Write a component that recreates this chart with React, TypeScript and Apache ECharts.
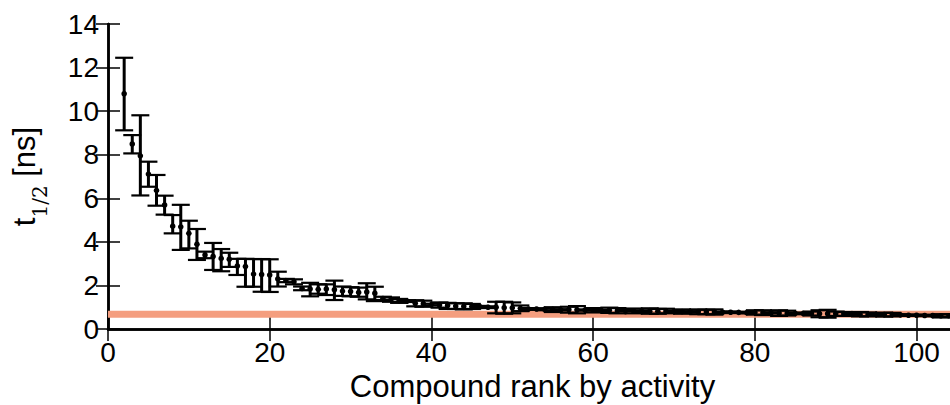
import React, { useEffect, useRef } from "react";
import * as echarts from "echarts";

const ranks: number[] = [];
for (let r = 2; r <= 104; r++) ranks.push(r);

const tHalf = [
  10.8, 8.49, 7.95, 7.11, 6.36, 5.69, 4.72, 4.69, 4.39, 3.89,
  3.4, 3.33, 3.24, 3.2, 2.89, 2.87, 2.52, 2.5, 2.48, 2.3,
  2.22, 2.17, 1.86, 1.84, 1.82, 1.84, 1.8, 1.74, 1.72, 1.68,
  1.7, 1.64, 1.4, 1.35, 1.3, 1.28, 1.18, 1.16, 1.12, 1.1,
  1.08, 1.05, 1.04, 1.03, 1.02, 1.0, 1.0, 0.98, 0.97, 0.95,
  0.92, 0.92, 0.9, 0.9, 0.88, 0.89, 0.88, 0.87, 0.86, 0.85,
  0.86, 0.84, 0.84, 0.83, 0.82, 0.82, 0.81, 0.82, 0.81, 0.8,
  0.79, 0.79, 0.78, 0.78, 0.77, 0.77, 0.76, 0.75, 0.76, 0.75,
  0.74, 0.73, 0.72, 0.72, 0.71, 0.71, 0.7, 0.7, 0.7, 0.69,
  0.68, 0.68, 0.67, 0.67, 0.66, 0.66, 0.65, 0.63, 0.63, 0.62,
  0.62, 0.61, 0.61,
];

const tLow = [
  9.12, 8.06, 6.13, 6.53, 5.66, 5.25, 4.39, 3.63, 3.7, 3.17,
  3.25, 2.71, 2.65, 2.85, 2.48, 1.94, 1.94, 1.71, 1.7, 1.95,
  2.15, 2.05, 1.78, 1.5, 1.62, 1.56, 1.33, 1.52, 1.5, 1.48,
  1.36, 1.28, 1.33, 1.25, 1.2, 1.24, 1.04, 1.02, 1.08, 0.98,
  0.92, 0.92, 0.9, 0.92, 0.98, 0.96, 0.72, 0.7, 0.72, 0.82,
  0.88, 0.89, 0.86, 0.78, 0.85, 0.75, 0.72, 0.84, 0.76, 0.82,
  0.74, 0.72, 0.81, 0.72, 0.78, 0.7, 0.7, 0.72, 0.78, 0.7,
  0.76, 0.68, 0.68, 0.66, 0.73, 0.74, 0.73, 0.72, 0.66, 0.64,
  0.71, 0.6, 0.62, 0.69, 0.68, 0.62, 0.54, 0.52, 0.6, 0.6,
  0.65, 0.58, 0.58, 0.64, 0.57, 0.58, 0.62, 0.6, 0.6, 0.59,
  0.59, 0.53, 0.55,
];

const tHigh = [
  12.45, 8.9, 9.81, 7.68, 7.07, 6.12, 5.23, 5.7, 4.97, 4.59,
  3.55, 3.95, 3.67, 3.5, 3.22, 3.22, 3.21, 3.21, 3.2, 2.63,
  2.3, 2.28, 1.95, 2.12, 2.05, 2.05, 2.22, 1.95, 1.92, 1.9,
  2.1, 1.94, 1.48, 1.45, 1.38, 1.32, 1.32, 1.3, 1.16, 1.22,
  1.2, 1.18, 1.18, 1.15, 1.06, 1.04, 1.25, 1.25, 1.22, 1.08,
  0.96, 0.95, 0.94, 1.0, 0.91, 1.02, 1.05, 0.9, 0.96, 0.88,
  0.98, 0.96, 0.87, 0.94, 0.86, 0.95, 0.92, 0.93, 0.84, 0.9,
  0.82, 0.9, 0.88, 0.9, 0.8, 0.8, 0.79, 0.78, 0.86, 0.86,
  0.77, 0.86, 0.84, 0.75, 0.74, 0.8, 0.86, 0.88, 0.8, 0.78,
  0.71, 0.78, 0.76, 0.7, 0.75, 0.74, 0.68, 0.66, 0.66, 0.65,
  0.65, 0.68, 0.67,
];

const threshold = 0.68;
const xTicks = { min: 0, max: 105, interval: 20 };
const yTicks = { min: 0, max: 14, interval: 2 };

const FONT = "Liberation Sans, Arial, sans-serif";

export default function App() {
  const ref = useRef<HTMLDivElement>(null);

  useEffect(() => {
    if (!ref.current) return;
    const chart = echarts.init(ref.current, null, { renderer: "svg" });
    const axisLine = { show: true, lineStyle: { color: "#000", width: 2.5 } };
    const axisTick = { show: true, inside: true, length: 12, lineStyle: { color: "#000", width: 1.5 } };
    const data = ranks.map((r, i) => [r, tHalf[i], tLow[i], tHigh[i]]);

    chart.setOption({
      animation: false,
      backgroundColor: "#fff",
      grid: { left: 108, right: 3, top: 24, bottom: 76, containLabel: false, outerBoundsMode: "none" },
      xAxis: [
        {
          type: "value",
          ...xTicks,
          position: "bottom",
          axisLine,
          axisTick,
          splitLine: { show: false },
          axisLabel: { show: true, color: "#000", fontSize: 28, fontFamily: FONT, margin: 9, showMaxLabel: false },
          name: "Compound rank by activity",
          nameLocation: "middle",
          nameGap: 41,
          nameTextStyle: { color: "#000", fontSize: 31, fontFamily: FONT },
        },
        {
          type: "value",
          ...xTicks,
          position: "top",
          axisLine,
          axisTick,
          splitLine: { show: false },
          axisLabel: { show: false },
        },
      ],
      yAxis: [
        {
          type: "value",
          ...yTicks,
          position: "left",
          axisLine,
          axisTick,
          splitLine: { show: false },
          axisLabel: { show: true, color: "#000", fontSize: 28, fontFamily: FONT, margin: 9 },
          name: "{t|t}{s|1/2}{t| [ns]}",
          nameLocation: "middle",
          nameRotate: 90,
          nameGap: 66,
          nameTextStyle: {
            color: "#000",
            rich: {
              t: { fontSize: 31, fontFamily: FONT, color: "#000", lineHeight: 36, verticalAlign: "middle" },
              s: { fontSize: 20, fontFamily: "DejaVu Serif, serif", color: "#000", lineHeight: 36, verticalAlign: "bottom", padding: [0, 0, -8, 0] },
            },
          },
        },
        {
          type: "value",
          ...yTicks,
          position: "right",
          axisLine,
          axisTick,
          splitLine: { show: false },
          axisLabel: { show: false },
        },
      ],
      series: [
        {
          type: "line",
          data: [[xTicks.min, threshold], [xTicks.max, threshold]],
          showSymbol: false,
          lineStyle: { color: "#F49E7F", width: 7 },
          z: 1,
          silent: true,
        },
        {
          type: "custom",
          data,
          encode: { x: 0, y: 1 },
          z: 2,
          clip: true,
          renderItem: (_params: any, api: any) => {
            const x = api.value(0);
            const pM = api.coord([x, api.value(1)]);
            const pL = api.coord([x, api.value(2)]);
            const pH = api.coord([x, api.value(3)]);
            const cap = 9;
            const stroke = "#000";
            return {
              type: "group",
              children: [
                { type: "line", shape: { x1: pL[0], y1: pL[1], x2: pH[0], y2: pH[1] }, style: { stroke, lineWidth: 3 } },
                { type: "line", shape: { x1: pH[0] - cap, y1: pH[1], x2: pH[0] + cap, y2: pH[1] }, style: { stroke, lineWidth: 2.2 } },
                { type: "line", shape: { x1: pL[0] - cap, y1: pL[1], x2: pL[0] + cap, y2: pL[1] }, style: { stroke, lineWidth: 2.2 } },
                { type: "circle", shape: { cx: pM[0], cy: pM[1], r: 2.8 }, style: { fill: stroke } },
              ],
            };
          },
        },
      ],
    });
    return () => chart.dispose();
  }, []);

  return (
    <div style={{ position: "absolute", left: 0, top: 0, width: 950, height: 405, overflow: "hidden", background: "#fff" }}>
      <div ref={ref} style={{ width: 960, height: 405 }} />
    </div>
  );
}
